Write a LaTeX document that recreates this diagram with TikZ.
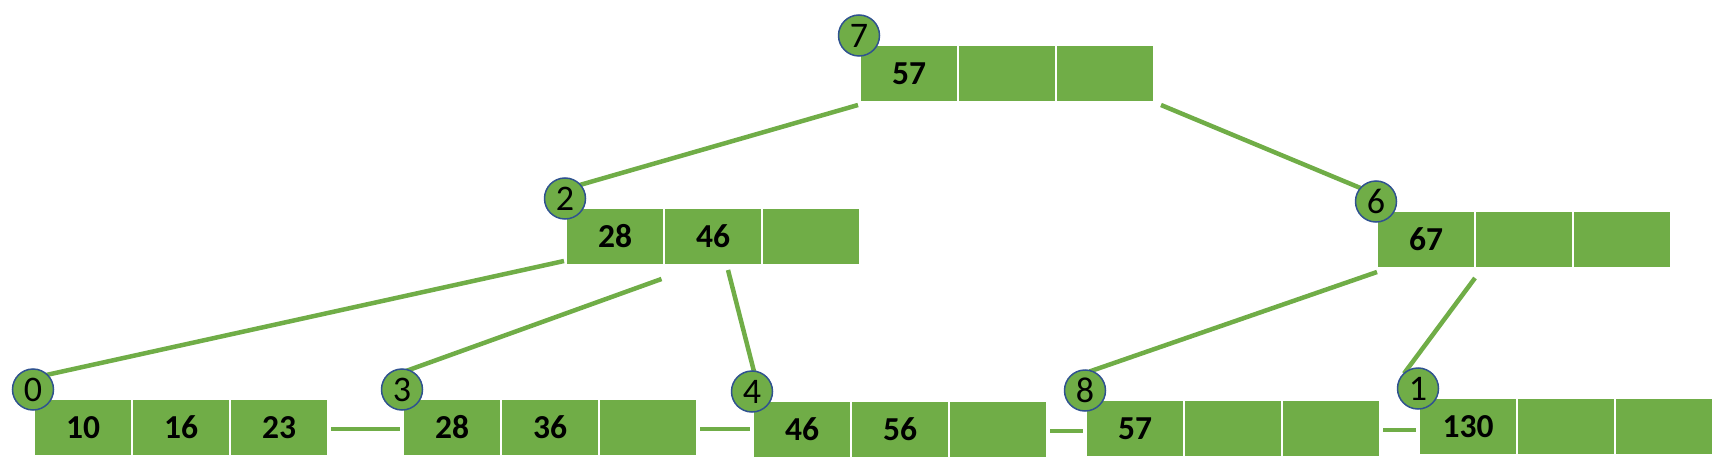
\documentclass[tikz,border=0pt]{standalone}
\usepackage{fontspec}
\setmainfont{Carlito}
\usetikzlibrary{backgrounds}
\definecolor{bgreen}{HTML}{70AD47}
\definecolor{cblue}{HTML}{2F528F}
\tikzset{
  cell/.style={rectangle, draw=white, line width=2pt, fill=bgreen, minimum width=98pt, minimum height=57pt, inner sep=0pt, outer sep=0pt, font=\fontsize{33.5}{38}\selectfont\bfseries},
  num/.style={circle, draw=cblue, line width=1.5pt, fill=bgreen, minimum size=41pt, inner sep=0pt, font=\fontsize{36}{40}\selectfont},
  link/.style={draw=bgreen, line width=4.5pt}
}
\newcommand\btnode[7]{%
  \node[cell] (#1-a) at (#2+48, #3+27.5) {#4};
  \node[cell] (#1-b) at (#2+146, #3+27.5) {#5};
  \node[cell] (#1-c) at (#2+244, #3+27.5) {#6};
  \node[num] (#1-k) at (#2-2, #3-10.5) {#7};
}
\begin{document}
\begin{tikzpicture}[x=1pt,y=-1pt]
\useasboundingbox (0,0) rectangle (1718,468);
% nodes
\btnode{n7}{861}{46}{57}{}{}{7}
\btnode{n2}{567}{209}{28}{46}{}{2}
\btnode{n6}{1378}{212}{67}{}{}{6}
\btnode{l0}{35}{400}{10}{16}{23}{0}
\btnode{l3}{404}{400}{28}{36}{}{3}
\btnode{l4}{754}{402}{46}{56}{}{4}
\btnode{l8}{1087}{401}{57}{}{}{8}
\btnode{l1}{1420}{399}{130}{}{}{1}
\begin{pgfonlayer}{background}
% parent-child connectors
\draw[link] ([shift={(-2,3)}]n7-a.south west) -- ([shift={(13,-13)}]n2-k.center);
\draw[link] ([shift={(7,3)}]n7-c.south east) -- ([shift={(-12,-12)}]n6-k.center);
\draw[link] ([shift={(-2,-4)}]n2-a.south west) -- ([shift={(11,-14)}]l0-k.center);
\draw[link] ([shift={(-2.5,14)}]n2-a.south east) -- ([shift={(4,-18.5)}]l3-k.center);
\draw[link] ([shift={(15,5)}]n2-b.south) -- ([shift={(2,-20)}]l4-k.center);
\draw[link] ([shift={(0,4)}]n6-a.south west) -- ([shift={(4.5,-19)}]l8-k.center);
\draw[link] ([shift={(0,10)}]n6-a.south east) -- ([shift={(-14,-15)}]l1-k.center);
% leaf links
\draw[link] ([shift={(3,1.5)}]l0-c.east) -- ([shift={(-3,1.5)}]l0-c.east -| l3-a.west);
\draw[link] ([shift={(3,1.5)}]l3-c.east) -- ([shift={(-3,1.5)}]l3-c.east -| l4-a.west);
\draw[link] ([shift={(3,1.5)}]l4-c.east) -- ([shift={(-3,1.5)}]l4-c.east -| l8-a.west);
\draw[link] ([shift={(3,1.5)}]l8-c.east) -- ([shift={(-3,1.5)}]l8-c.east -| l1-a.west);
\end{pgfonlayer}
\end{tikzpicture}
\end{document}
